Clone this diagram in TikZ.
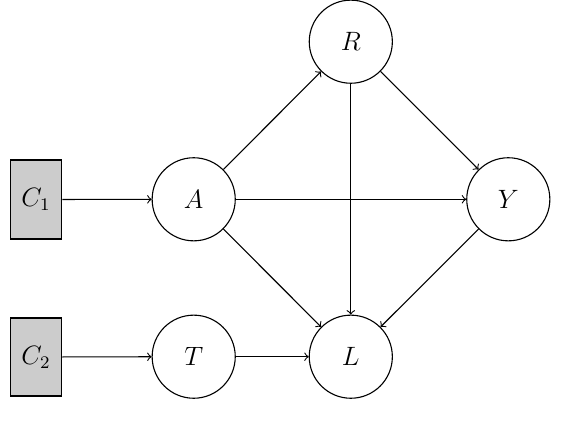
\documentclass[tikz,border=0pt]{standalone}
\begin{document}
\begin{tikzpicture}[x=0.015883cm,y=-0.015883cm,font=\large,
  var/.style={circle,draw,line width=0.5pt,minimum size=1.32cm,inner sep=0pt},
  conf/.style={rectangle,draw,line width=0.9pt,fill=black!20,minimum width=0.81cm,minimum height=1.24cm,inner sep=0pt},
  edge/.style={->,line width=0.5pt}]
\useasboundingbox (0,0) rectangle (574,432);
\node[conf] (C1) at (36,199.5) {$C_1$};
\node[conf] (C2) at (36,357) {$C_2$};
\node[var] (A) at (193.7,199.3) {$A$};
\node[var] (T) at (193.7,356.7) {$T$};
\node[var] (R) at (350.8,41.7) {$R$};
\node[var] (Y) at (508.3,199.3) {$Y$};
\node[var] (L) at (350.8,356.7) {$L$};
\draw[edge] (C1) -- (A);
\draw[edge] (C2) -- (T);
\draw[edge] (A) -- (R);
\draw[edge] (A) -- (Y);
\draw[edge] (A) -- (L);
\draw[edge] (R) -- (Y);
\draw[edge] (R) -- (L);
\draw[edge] (Y) -- (L);
\draw[edge] (T) -- (L);
\end{tikzpicture}
\end{document}
